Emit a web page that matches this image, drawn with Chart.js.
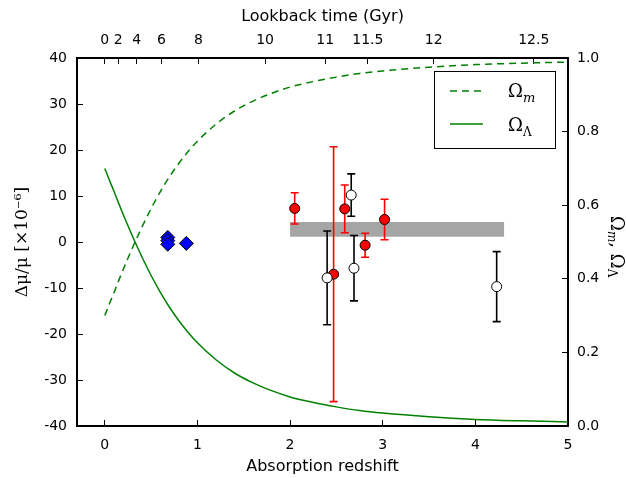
<!DOCTYPE html>
<html>
<head>
<meta charset="utf-8">
<script src="https://cdn.jsdelivr.net/npm/chart.js@4.4.1/dist/chart.umd.min.js"></script>
<style>
  html, body { margin: 0; padding: 0; background: #fff; }
</style>
</head>
<body>
<canvas id="chart" width="626" height="478"></canvas>
<script>
// density parameter curves
const curveZ = [0, 0.05, 0.1, 0.15, 0.2, 0.25, 0.3, 0.35, 0.4, 0.5, 0.6, 0.7, 0.8, 0.9, 1.0, 1.2, 1.4, 1.6, 1.8, 2.0, 2.25, 2.5, 2.75, 3.0, 3.5, 4.0, 4.5, 5.0];
const omegaM = [0.300, 0.332, 0.363, 0.395, 0.426, 0.456, 0.485, 0.513, 0.540, 0.591, 0.637, 0.678, 0.714, 0.746, 0.774, 0.820, 0.856, 0.883, 0.904, 0.921, 0.936, 0.948, 0.958, 0.965, 0.975, 0.982, 0.986, 0.989];
const omegaL = [0.700, 0.668, 0.637, 0.605, 0.574, 0.544, 0.515, 0.487, 0.460, 0.409, 0.363, 0.322, 0.286, 0.254, 0.226, 0.180, 0.144, 0.117, 0.096, 0.079, 0.064, 0.052, 0.042, 0.035, 0.025, 0.018, 0.014, 0.011];

// red filled points
const redZ = [2.05, 2.47, 2.59, 2.81, 3.02];
const redVal = [7.3, -7.0, 7.2, -0.7, 4.9];
const redErr = [3.4, 27.7, 5.2, 2.6, 4.4];

// open circles
const openZ = [2.40, 2.66, 2.69, 4.23];
const openVal = [-7.8, 10.2, -5.7, -9.7];
const openErr = [10.2, 4.6, 7.1, 7.6];

// blue diamonds
const blueZ = [0.68, 0.68, 0.68, 0.88];
const blueVal = [1.0, 0.3, -0.5, -0.3];

// grey band
const bandZ = [2.0, 4.31];
const bandVal = [1.15, 4.35];

// ticks
const redshiftTicks = [0, 1, 2, 3, 4, 5];
const lookbackZ = [0, 0.145, 0.344, 0.612, 1.01, 1.73, 2.38, 2.84, 3.55, 4.63];
const lookbackLabels = ['0', '2', '4', '6', '8', '10', '11', '11.5', '12', '12.5'];

const tickFont = { family: 'DejaVu Sans', size: 14 };
const titleFont = { family: 'DejaVu Sans', size: 16 };
const green = '#008000';

function pts(xs, ys) {
  return xs.map((x, i) => ({ x: x, y: ys[i] }));
}

const extras = {
  id: 'extras',
  beforeDatasetsDraw(chart) {
    const ctx = chart.ctx;
    const xs = chart.scales.x, ys = chart.scales.y;
    const a = chart.chartArea;
    ctx.save();
    ctx.beginPath();
    ctx.rect(a.left, a.top, a.right - a.left, a.bottom - a.top);
    ctx.clip();
    // band
    const bx0 = xs.getPixelForValue(bandZ[0]), bx1 = xs.getPixelForValue(bandZ[1]);
    const by0 = ys.getPixelForValue(bandVal[1]), by1 = ys.getPixelForValue(bandVal[0]);
    ctx.fillStyle = '#a5a5a5';
    ctx.fillRect(bx0, by0, bx1 - bx0, by1 - by0);
    // error bars
    function bars(zs, vals, errs, color) {
      ctx.strokeStyle = color;
      ctx.lineWidth = 1.6;
      zs.forEach((z, i) => {
        const px = xs.getPixelForValue(z);
        const top = ys.getPixelForValue(vals[i] + errs[i]);
        const bot = ys.getPixelForValue(vals[i] - errs[i]);
        ctx.beginPath();
        ctx.moveTo(px, top); ctx.lineTo(px, bot);
        ctx.moveTo(px - 4, top); ctx.lineTo(px + 4, top);
        ctx.moveTo(px - 4, bot); ctx.lineTo(px + 4, bot);
        ctx.stroke();
      });
    }
    bars(redZ, redVal, redErr, '#ff0000');
    bars(openZ, openVal, openErr, '#000000');
    ctx.restore();
  },
  afterDraw(chart) {
    const ctx = chart.ctx;
    const a = chart.chartArea;
    ctx.save();
    // legend box
    const lw = 121, lh = 77;
    const lx = a.right - 13 - lw, ly = a.top + 13;
    ctx.fillStyle = '#fff';
    ctx.fillRect(lx, ly, lw, lh);
    ctx.strokeStyle = '#000';
    ctx.lineWidth = 1;
    ctx.strokeRect(lx + 0.5, ly + 0.5, lw, lh);
    ctx.strokeStyle = green;
    ctx.lineWidth = 1.5;
    ctx.setLineDash([7, 5]);
    ctx.beginPath();
    ctx.moveTo(lx + 16, ly + 20); ctx.lineTo(lx + 48, ly + 20);
    ctx.stroke();
    ctx.setLineDash([]);
    ctx.beginPath();
    ctx.moveTo(lx + 16, ly + 53); ctx.lineTo(lx + 49, ly + 53);
    ctx.stroke();
    ctx.fillStyle = '#000';
    ctx.textBaseline = 'alphabetic';
    ctx.textAlign = 'left';
    ctx.font = '18px "DejaVu Serif"';
    ctx.fillText('Ω', lx + 74, ly + 26);
    ctx.fillText('Ω', lx + 74, ly + 60);
    ctx.font = 'italic 13px "DejaVu Serif"';
    ctx.fillText('m', lx + 89, ly + 31);
    ctx.font = '12px "DejaVu Serif"';
    ctx.fillText('Λ', lx + 89, ly + 65);

    // right axis title
    ctx.translate(616, 216);
    ctx.rotate(Math.PI / 2);
    ctx.textBaseline = 'middle';
    ctx.font = '18px "DejaVu Serif"';
    ctx.fillText('Ω', 0, 0);
    let w = ctx.measureText('Ω').width;
    ctx.font = 'italic 12px "DejaVu Serif"';
    ctx.fillText('m', w, 5);
    w += ctx.measureText('m').width;
    ctx.font = '18px "DejaVu Serif"';
    ctx.fillText(',', w, 0);
    w += ctx.measureText(', ').width;
    ctx.fillText('Ω', w, 0);
    w += ctx.measureText('Ω').width;
    ctx.font = '12px "DejaVu Serif"';
    ctx.fillText('Λ', w, 5);
    ctx.restore();
  }
};

const ctx = document.getElementById('chart');
new Chart(ctx, {
  type: 'scatter',
  data: {
    datasets: [
      {
        label: 'open',
        data: pts(openZ, openVal),
        pointStyle: 'circle',
        pointRadius: 5,
        pointBackgroundColor: '#fff',
        pointBorderColor: '#000',
        pointBorderWidth: 1,
        order: 0
      },
      {
        label: 'red',
        data: pts(redZ, redVal),
        pointStyle: 'circle',
        pointRadius: 5,
        pointBackgroundColor: '#ff0000',
        pointBorderColor: '#000',
        pointBorderWidth: 1,
        order: 1
      },
      {
        label: 'blue',
        data: pts(blueZ, blueVal),
        pointStyle: 'rectRot',
        pointRadius: 7,
        pointBackgroundColor: '#0000ff',
        pointBorderColor: '#000',
        pointBorderWidth: 1,
        order: 2
      },
      {
        type: 'line',
        label: 'Ωm',
        data: pts(curveZ, omegaM),
        yAxisID: 'y1',
        borderColor: green,
        borderWidth: 1.5,
        borderDash: [7, 5],
        pointRadius: 0,
        cubicInterpolationMode: 'monotone',
        order: 3
      },
      {
        type: 'line',
        label: 'ΩΛ',
        data: pts(curveZ, omegaL),
        yAxisID: 'y1',
        borderColor: green,
        borderWidth: 1.5,
        pointRadius: 0,
        cubicInterpolationMode: 'monotone',
        order: 4
      }
    ]
  },
  options: {
    responsive: false,
    animation: false,
    layout: { padding: 0 },
    plugins: {
      legend: { display: false },
      tooltip: { enabled: false }
    },
    scales: {
      x: {
        type: 'linear',
        position: 'bottom',
        min: -0.3,
        max: 5,
        afterBuildTicks: (s) => { s.ticks = redshiftTicks.map((v) => ({ value: v })); },
        afterFit: (s) => { s.height = 52; },
        grid: { drawOnChartArea: false, tickLength: -6, color: '#000' },
        border: { color: '#000', width: 2 },
        ticks: { font: tickFont, color: '#000', padding: 16.5, maxRotation: 0 },
        title: { display: true, text: 'Absorption redshift', font: titleFont, color: '#000', padding: { top: 0, bottom: 1.5 } }
      },
      x2: {
        type: 'linear',
        position: 'top',
        min: -0.3,
        max: 5,
        afterBuildTicks: (s) => { s.ticks = lookbackZ.map((v) => ({ value: v })); },
        afterFit: (s) => { s.height = 58; },
        grid: { drawOnChartArea: false, tickLength: -6, color: '#000' },
        border: { color: '#000', width: 2 },
        ticks: {
          font: tickFont, color: '#000', padding: 15, maxRotation: 0, autoSkip: false,
          callback: (v, i) => lookbackLabels[i]
        },
        title: { display: true, text: 'Lookback time (Gyr)', font: titleFont, color: '#000', padding: { top: 7.5, bottom: 0 } }
      },
      y: {
        position: 'left',
        min: -40,
        max: 40,
        ticks: { stepSize: 10, font: tickFont, color: '#000', padding: 16 },
        afterFit: (s) => { s.width = 77; },
        grid: { drawOnChartArea: false, tickLength: -6, color: '#000' },
        border: { color: '#000', width: 2 },
        title: { display: true, text: 'Δμ/μ [×10⁻⁶]', font: { family: 'DejaVu Serif', size: 17 }, color: '#000', padding: { top: 12, bottom: 0 } }
      },
      y1: {
        position: 'right',
        min: 0,
        max: 1,
        ticks: { stepSize: 0.2, font: tickFont, color: '#000', padding: 15, callback: (v) => v.toFixed(1) },
        afterFit: (s) => { s.width = 58; },
        grid: { drawOnChartArea: false, tickLength: -6, color: '#000' },
        border: { color: '#000', width: 2 }
      }
    }
  },
  plugins: [extras]
});
</script>
</body>
</html>
